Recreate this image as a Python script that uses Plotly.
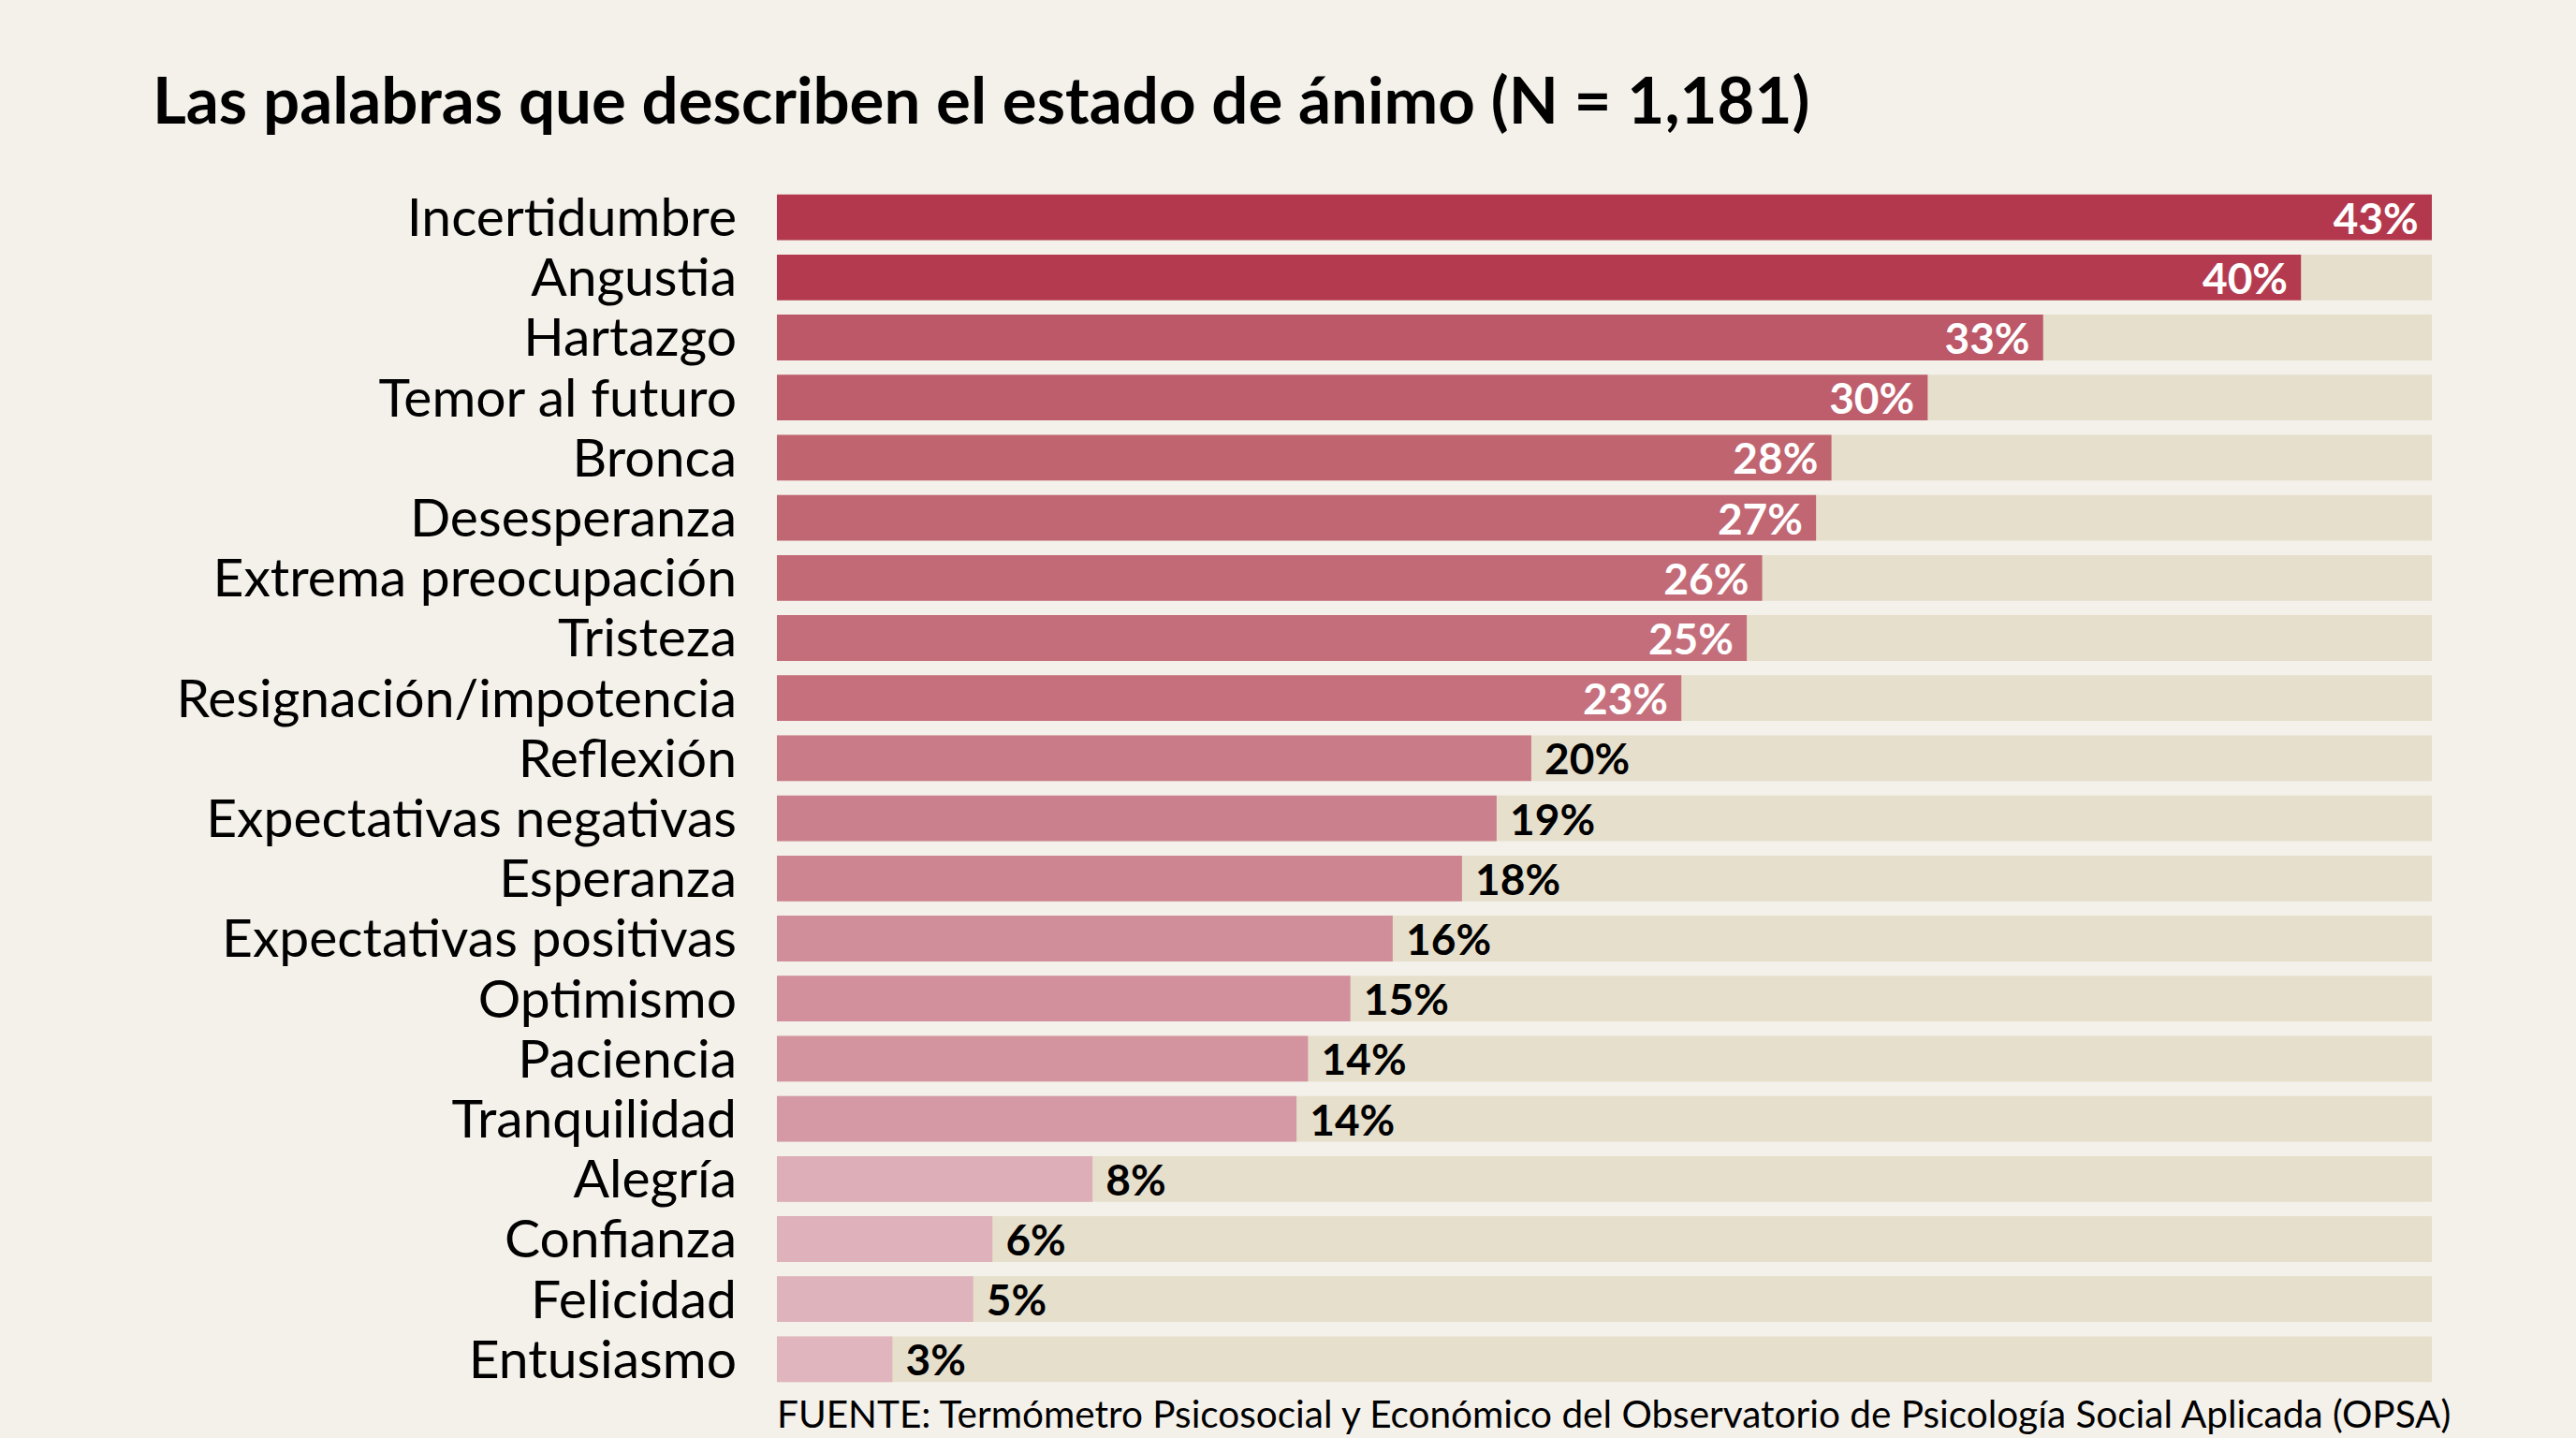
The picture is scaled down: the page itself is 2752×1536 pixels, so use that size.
import plotly.graph_objects as go

# words and share of respondents (%)
words = [
    "Incertidumbre", "Angustia", "Hartazgo", "Temor al futuro", "Bronca",
    "Desesperanza", "Extrema preocupación", "Tristeza", "Resignación/impotencia",
    "Reflexión", "Expectativas negativas", "Esperanza", "Expectativas positivas",
    "Optimismo", "Paciencia", "Tranquilidad", "Alegría", "Confianza",
    "Felicidad", "Entusiasmo",
]
bar_len = [43, 39.6, 32.9, 29.9, 27.4, 27.0, 25.6, 25.2, 23.5, 19.6,
           18.7, 17.8, 16.0, 14.9, 13.8, 13.5, 8.2, 5.6, 5.1, 3.0]
pct_labels = ["43%", "40%", "33%", "30%", "28%", "27%", "26%", "25%", "23%", "20%",
              "19%", "18%", "16%", "15%", "14%", "14%", "8%", "6%", "5%", "3%"]

# bar colours, dark red at the top fading to pale pink
colors = ["#B4384D", "#B43B4F", "#BC5868", "#BE5E6D", "#C06470", "#C16673",
          "#C36A77", "#C56E7B", "#C6707D", "#C97B88", "#CB818D", "#CD8591",
          "#D08E9A", "#D2909C", "#D3939F", "#D499A4", "#DDADB8", "#DEB1BB",
          "#DFB3BC", "#E0B5BE"]

top = max(bar_len)
# big bars get the label inside, small ones outside
positions = ["inside" if v > 22 else "outside" for v in bar_len]
# a non-breaking space gives the labels a bit of room from the bar end
texts = [t + "\u00a0" if p == "inside" else "\u00a0" + t
         for t, p in zip(pct_labels, positions)]

fig = go.Figure()

# beige track behind every bar
fig.add_trace(go.Bar(
    y=words, x=[top] * len(words), orientation="h",
    marker=dict(color="#E6DFCC", line=dict(width=0)),
    hoverinfo="skip", showlegend=False,
))

fig.add_trace(go.Bar(
    y=words, x=bar_len, orientation="h",
    marker=dict(color=colors, line=dict(width=0)),
    text=texts, textposition=positions,
    insidetextanchor="end", constraintext="none", textangle=0,
    insidetextfont=dict(family="Lato", size=46, color="white", weight="bold"),
    outsidetextfont=dict(family="Lato", size=46, color="black", weight="bold"),
    cliponaxis=False, showlegend=False,
))

fig.update_layout(
    width=2752, height=1536,
    barmode="overlay", bargap=0.24,
    paper_bgcolor="#F4F0EA", plot_bgcolor="#F4F0EA",
    margin=dict(l=830, r=154, t=200, b=52),
    title=dict(
        text="<b>Las palabras que describen el estado de ánimo (N = 1,181)</b>",
        font=dict(family="Lato", size=69, color="black"),
        xref="container", x=163 / 2752, xanchor="left",
        yref="container", y=1 - 108 / 1536, yanchor="middle",
    ),
    font=dict(family="Lato", color="black"),
)

fig.update_xaxes(range=[0, top], visible=False, fixedrange=True)
fig.update_yaxes(
    autorange="reversed", showgrid=False, zeroline=False, showline=False,
    tickmode="array", tickvals=words,
    tickfont=dict(family="Lato", size=57, color="black"),
    ticklabelstandoff=42, ticks="",
)

fig.add_annotation(
    text="FUENTE: Termómetro Psicosocial y Económico del Observatorio de Psicología Social Aplicada (OPSA)",
    xref="paper", yref="paper", x=1.0125, y=-0.0195,
    xanchor="right", yanchor="middle", showarrow=False,
    font=dict(family="Lato", size=40.5, color="black"),
)

fig.write_html(
    "out.html",
    config={"displayModeBar": False},
    post_script="document.body.style.margin='0';document.body.style.background='#F4F0EA';",
)
